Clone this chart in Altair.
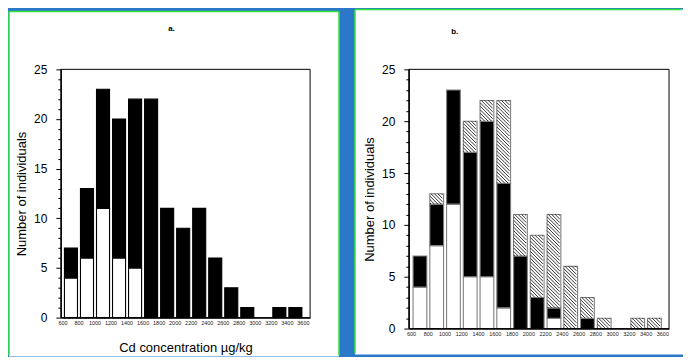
import math
import altair as alt
import pandas as pd

# ---- data ----
bin_starts = [600, 800, 1000, 1200, 1400, 1600, 1800, 2000, 2200, 2400, 2600, 2800, 3000, 3200, 3400]
BIN_W = 200
tick_values = list(range(600, 3601, 200))

a_white = [4, 6, 11, 6, 5, 0, 0, 0, 0, 0, 0, 0, 0, 0, 0]
a_black = [3, 7, 12, 14, 17, 22, 11, 9, 11, 6, 3, 1, 0, 1, 1]

b_white = [4, 8, 12, 5, 5, 2, 0, 0, 1, 0, 0, 0, 0, 0, 0]
b_black = [3, 4, 11, 12, 15, 12, 7, 3, 1, 0, 1, 0, 0, 0, 0]
b_hatch = [0, 1, 0, 3, 2, 8, 4, 6, 9, 6, 2, 1, 0, 1, 1]

FONT = "Liberation Sans"
BLUE = "#2b78c9"
GREEN = "#2fe23c"


def stack_table(series):
    rows = []
    for i, s in enumerate(bin_starts):
        lo = 0
        for kind, vals in series:
            v = vals[i]
            if v > 0:
                rows.append({"start": s, "end": s + BIN_W, "lo": lo, "hi": lo + v, "kind": kind})
            lo += v
    return pd.DataFrame(rows)


def hatch_path(W, H, d):
    # diagonal "\" lines clipped to a W x H tile, normalised to symbol units
    k = W / 2.0
    parts = []
    lim = W / 2 + H / 2
    cc = math.floor(-lim / d) * d
    while cc <= lim:
        x0 = max(-W / 2, -H / 2 + cc)
        x1 = min(W / 2, H / 2 + cc)
        if x1 - x0 > 0.05:
            parts.append("M%.3f,%.3fL%.3f,%.3f" % (x0 / k, (x0 - cc) / k, x1 / k, (x1 - cc) / k))
        cc += d
    return "".join(parts)


def axes(x_title):
    xa = alt.Axis(
        title=x_title, values=tick_values, format="d", labelFontSize=5.5, labelFont=FONT,
        labelColor="#222", ticks=False, labelPadding=3, domainColor="black", domainWidth=1.2,
        grid=False, zindex=1, titleFont=FONT, titleFontSize=13, titleFontWeight="normal",
        titlePadding=16, titleColor="black", labelFlush=False, labelOverlap=False,
    )
    ya = alt.Axis(
        title="Number of individuals", values=list(range(26)), format="d",
        labelExpr="datum.value % 5 === 0 ? datum.label : ''",
        tickSize={"condition": {"test": "datum.value % 5 === 0", "value": 5}, "value": 3},
        tickColor="black", labelFont=FONT, labelFontSize=12, labelColor="black",
        labelPadding=9, domainColor="black", domainWidth=1.2, grid=False, zindex=1,
        labelOverlap=False,
        titleFont=FONT, titleFontSize=13, titleFontWeight="normal", titleColor="black",
        titlePadding=5,
    )
    return xa, ya


def panel(df, width, height, domain, stroke_col, rect_pad, title_txt, title_xy, x_title,
          right_border=True, cells=None):
    xa, ya = axes(x_title)
    xs = alt.Scale(domain=domain, nice=False, zero=False)
    ys = alt.Scale(domain=[0, 25], nice=False)

    l, r, t, b = rect_pad
    one = pd.DataFrame({"a": [0]})
    bg = alt.Chart(one).mark_rect(fill="white").encode(
        x=alt.value(-l), x2=alt.value(width + r), y=alt.value(-t), y2=alt.value(height + b)
    )
    left_line = alt.Chart(one).mark_rule(color=GREEN, strokeWidth=1.5).encode(
        x=alt.value(-l), y=alt.value(-t), y2=alt.value(height + b - 1)
    )
    top_end = width + r if right_border else width + r - 1
    top_line = alt.Chart(one).mark_rule(color=GREEN, strokeWidth=1.5).encode(
        x=alt.value(-l), x2=alt.value(top_end), y=alt.value(-t)
    )
    layers = [bg, left_line, top_line]
    if right_border:
        layers.append(alt.Chart(one).mark_rule(color=GREEN, strokeWidth=1.5).encode(
            x=alt.value(width + r), y=alt.value(-t), y2=alt.value(height + b - 1)
        ))

    bars = alt.Chart(df).mark_bar(binSpacing=3, stroke=stroke_col, strokeWidth=1.1).encode(
        x=alt.X("start:Q", bin="binned", scale=xs, axis=xa),
        x2="end:Q",
        y=alt.Y("lo:Q", scale=ys, axis=ya),
        y2="hi:Q",
        fill=alt.Fill("kind:N", scale=alt.Scale(domain=["white", "black", "hatch"],
                                                  range=["white", "black", "white"]), legend=None),
    )
    layers.append(bars)

    if cells is not None:
        bar_px = BIN_W * width / (domain[1] - domain[0]) - 3
        tile_w = bar_px - 1.2
        unit_h = height / 25.0
        path = hatch_path(tile_w, unit_h, unit_h / 3.0)
        hatch = alt.Chart(cells).mark_point(
            shape=path, size=tile_w ** 2, filled=False, stroke="black", strokeWidth=0.8, opacity=1
        ).encode(
            x=alt.X("mid:Q", scale=xs, axis=xa),
            y=alt.Y("lev:Q", scale=ys, axis=ya),
        )
        layers.append(hatch)

    frame = alt.Chart(one).mark_rect(fill="white", fillOpacity=0, stroke="black", strokeWidth=1).encode(
        x=alt.value(0), x2=alt.value(width), y=alt.value(0), y2=alt.value(height)
    )
    title = alt.Chart(one).mark_text(
        font=FONT, fontSize=8, fontWeight="bold", color="black"
    ).encode(x=alt.value(title_xy[0]), y=alt.value(title_xy[1]), text=alt.value(title_txt))
    layers += [frame, title]
    return alt.layer(*layers).properties(width=width, height=height)


# ---- panel a ----
df_a = stack_table([("white", a_white), ("black", a_black)])
pa = panel(df_a, 250, 249, [580, 3690], "black", (52, 29, 58, 39), "a.", (111, -40),
           "Cd concentration µg/kg")

# ---- panel b ----
df_b = stack_table([("white", b_white), ("black", b_black), ("hatch", b_hatch)])
cells = []
for _, row in df_b[df_b["kind"] == "hatch"].iterrows():
    for lev in range(int(row["lo"]), int(row["hi"])):
        cells.append({"mid": row["start"] + BIN_W / 2, "lev": lev + 0.5})
cells = pd.DataFrame(cells)
pb = panel(df_b, 261, 260, [573, 3680], "#808080", (54, 14, 60, 26), "b.", (46, -37), None,
           right_border=False, cells=cells)

chart = alt.hconcat(pa, pb, spacing=14).properties(
    background=BLUE,
    padding=0,
).configure_view(stroke=None)

chart.save("out.html", embed_options={"renderer": "svg", "actions": False})
